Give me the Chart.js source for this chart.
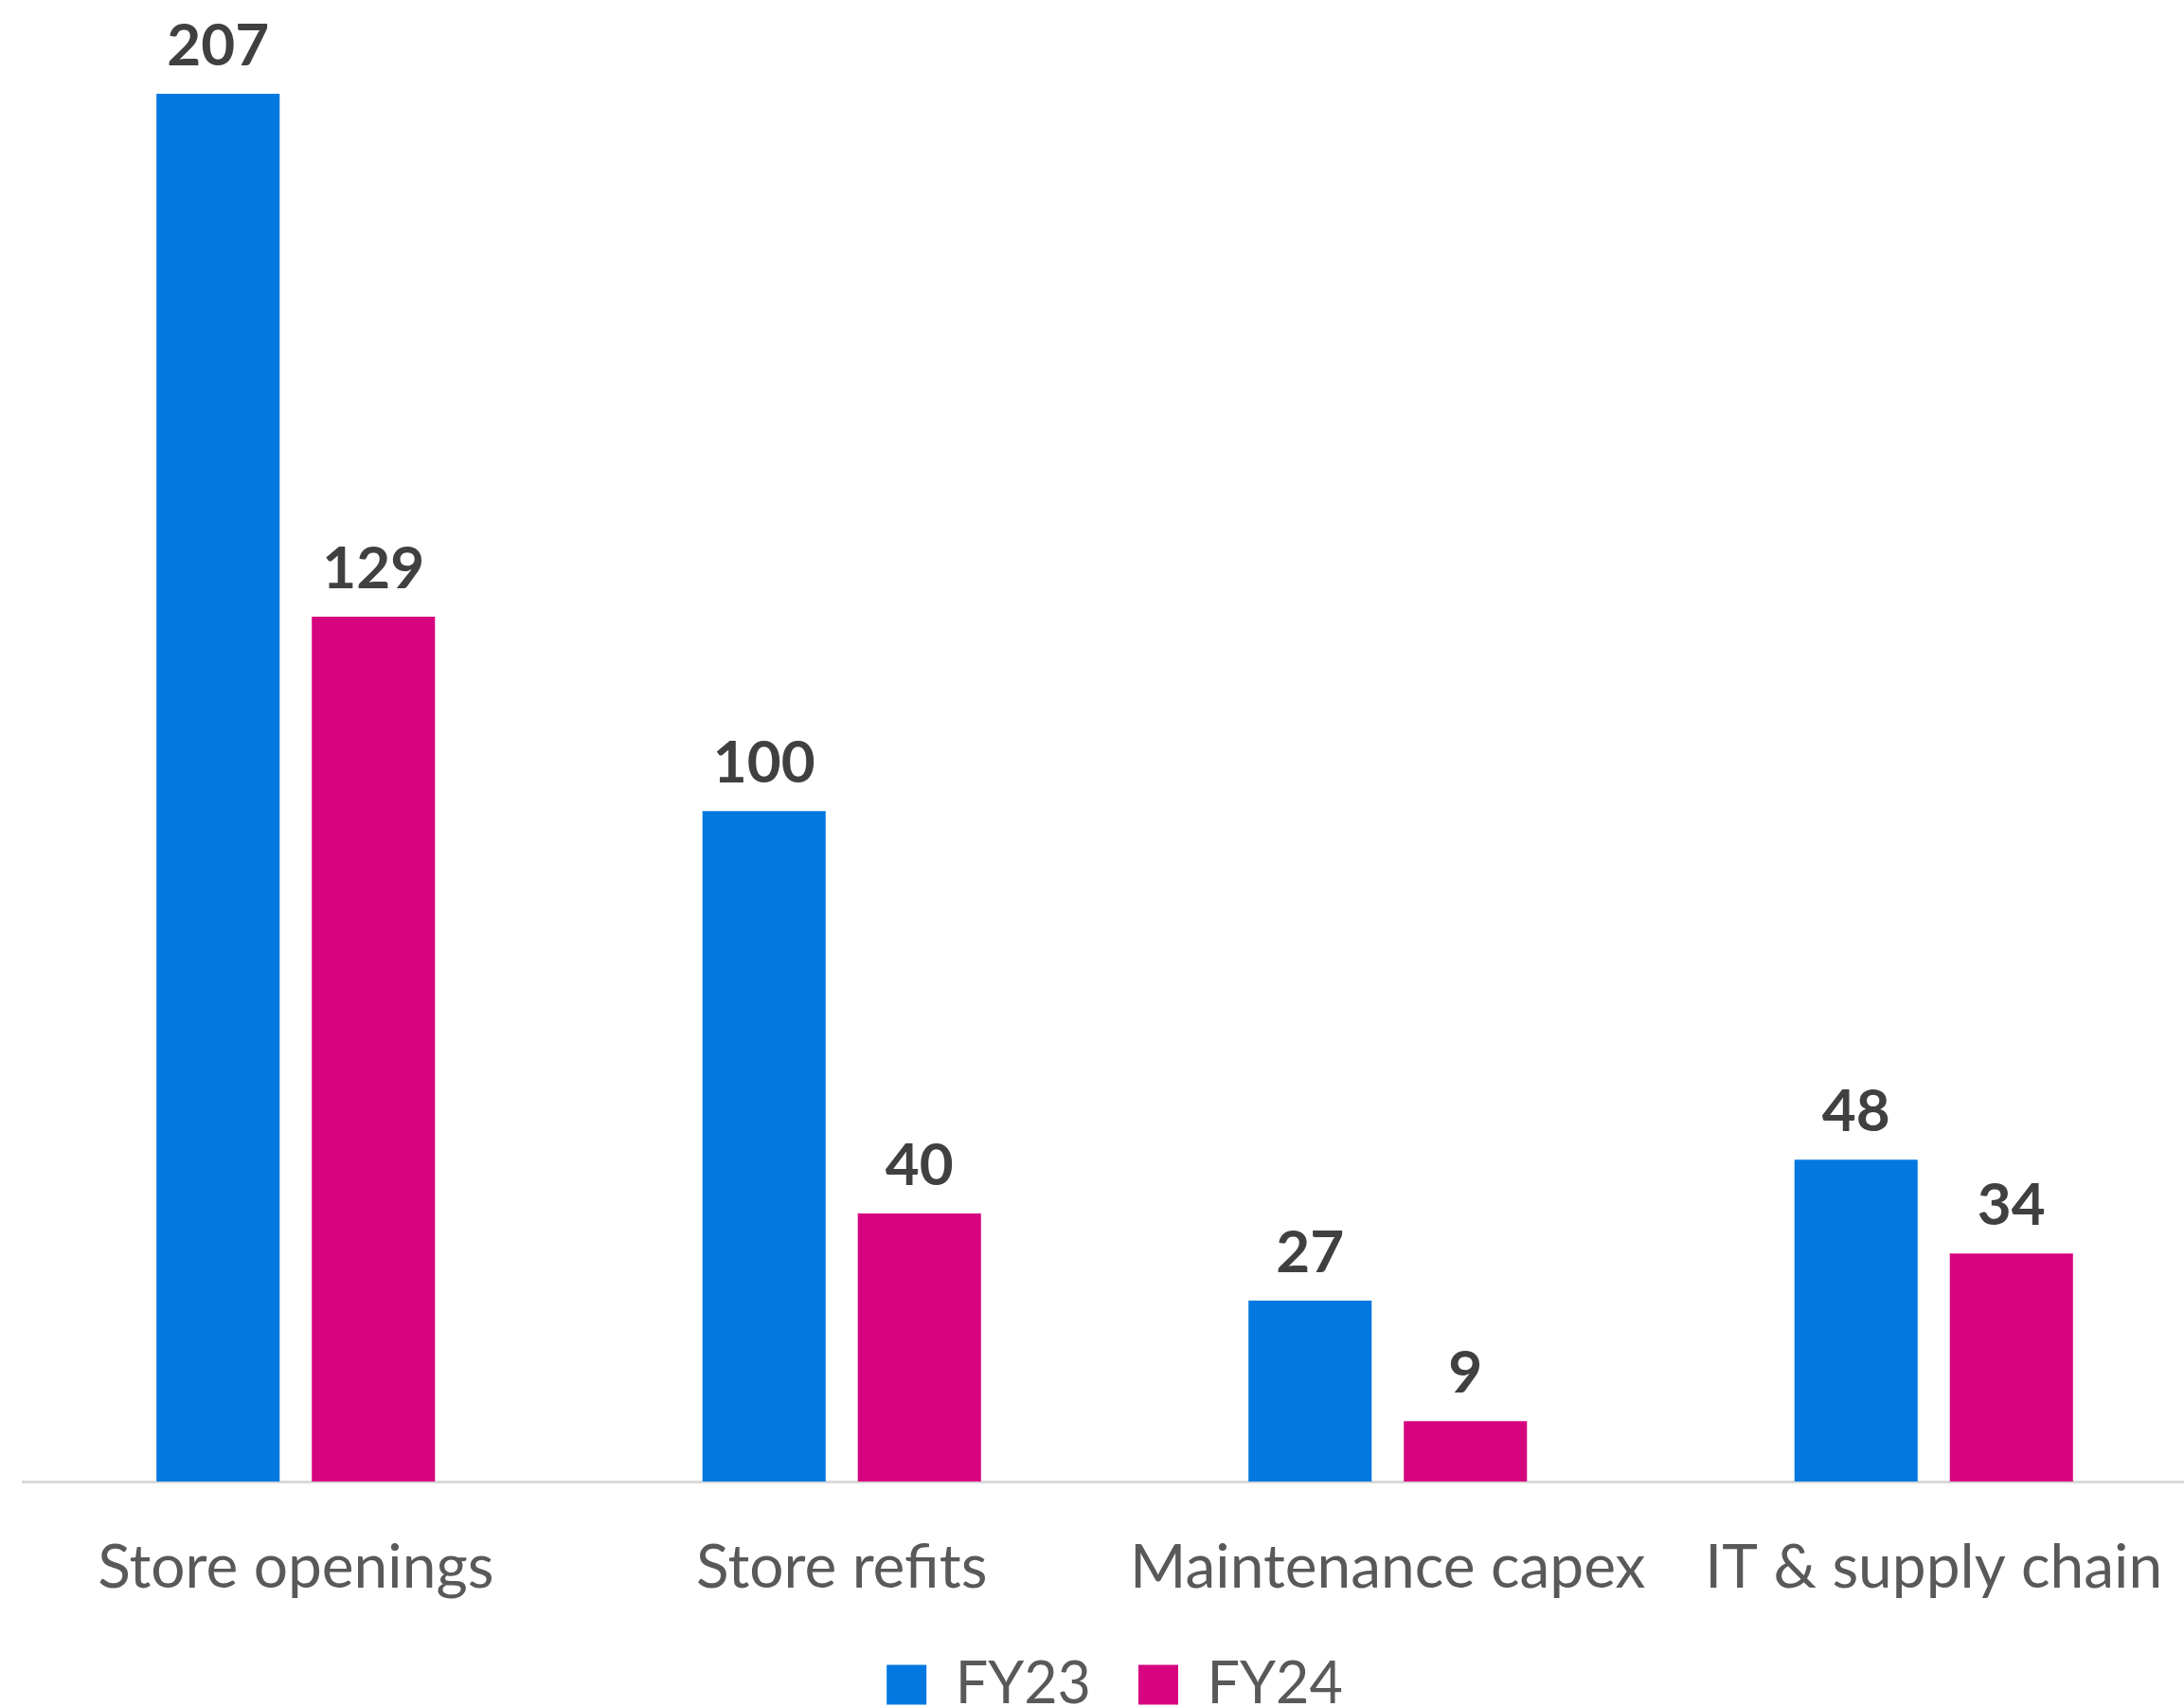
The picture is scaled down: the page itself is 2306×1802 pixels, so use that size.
<!DOCTYPE html>
<html>
<head>
<meta charset="utf-8">
<script src="https://cdn.jsdelivr.net/npm/chart.js@4"></script>
<style>
  html, body { margin: 0; padding: 0; background: #fff; overflow: hidden; }
  #wrap { width: 2340px; height: 1802px; }
</style>
</head>
<body>
<div id="wrap"><canvas id="capex" width="2340" height="1802"></canvas></div>
<script>
const categories = ['Store openings', 'Store refits', 'Maintenance capex', 'IT & supply chain'];
const fy23 = [207, 100, 27, 48];
const fy24 = [129, 40, 9, 34];
const seriesNames = ['FY23', 'FY24'];

const BLUE = '#0478e1';
const PINK = '#d6047f';

// writes the value over each bar
const valueLabels = {
  id: 'valueLabels',
  afterDatasetsDraw(chart) {
    const ctx = chart.ctx;
    ctx.save();
    ctx.font = 'bold 62px Lato';
    ctx.fillStyle = '#404040';
    ctx.textAlign = 'center';
    ctx.textBaseline = 'alphabetic';
    chart.data.datasets.forEach((ds, i) => {
      chart.getDatasetMeta(i).data.forEach((bar, j) => {
        ctx.fillText(String(ds.data[j]), bar.x, bar.y - 30);
      });
    });
    ctx.restore();
  }
};

new Chart(document.getElementById('capex'), {
  type: 'bar',
  data: {
    labels: categories,
    datasets: [
      { label: seriesNames[0], data: fy23, backgroundColor: BLUE },
      { label: seriesNames[1], data: fy24, backgroundColor: PINK }
    ]
  },
  options: {
    responsive: false,
    animation: false,
    devicePixelRatio: 1,
    categoryPercentage: 0.569,
    barPercentage: 0.793,
    layout: { padding: { left: 24, right: 10, top: 7, bottom: -17 } },
    scales: {
      x: {
        grid: { display: true, drawOnChartArea: false, drawTicks: false },
        border: { display: true, color: '#d9d9d9', width: 3 },
        ticks: {
          color: '#595959',
          font: { family: 'Lato', size: 64 },
          padding: 53,
          maxRotation: 0,
          autoSkip: false
        },
        // keep the legend close under the category names
        afterFit: (scale) => { scale.height = 134; }
      },
      y: {
        display: false,
        min: 0,
        max: 220
      }
    },
    plugins: {
      legend: {
        position: 'bottom',
        labels: {
          color: '#595959',
          font: { family: 'Lato', size: 61 },
          boxWidth: 42,
          boxHeight: 42,
          padding: 50
        }
      },
      tooltip: { enabled: false }
    }
  },
  plugins: [valueLabels]
});
</script>
</body>
</html>
